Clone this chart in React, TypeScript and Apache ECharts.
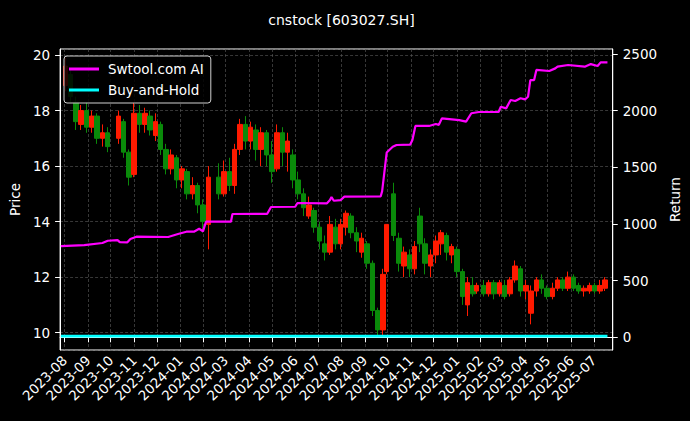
import React, { useEffect, useRef } from "react";
import * as echarts from "echarts";

const candleDates = [
  "2023-08-02","2023-08-09","2023-08-16","2023-08-23","2023-08-30","2023-09-06","2023-09-13","2023-09-20","2023-09-27",
  "2023-10-11","2023-10-18","2023-10-25","2023-11-01","2023-11-08","2023-11-15","2023-11-22","2023-11-29","2023-12-06",
  "2023-12-13","2023-12-20","2023-12-27","2024-01-03","2024-01-10","2024-01-17","2024-01-24","2024-01-31","2024-02-07",
  "2024-02-21","2024-02-28","2024-03-06","2024-03-13","2024-03-20","2024-03-27","2024-04-03","2024-04-10","2024-04-17",
  "2024-04-24","2024-05-01","2024-05-08","2024-05-15","2024-05-22","2024-05-29","2024-06-05","2024-06-12","2024-06-19",
  "2024-06-26","2024-07-03","2024-07-10","2024-07-17","2024-07-24","2024-07-31","2024-08-07","2024-08-14","2024-08-21",
  "2024-08-28","2024-09-04","2024-09-11","2024-09-18","2024-09-25","2024-09-30","2024-10-09","2024-10-16","2024-10-23",
  "2024-10-30","2024-11-06","2024-11-13","2024-11-20","2024-11-27","2024-12-04","2024-12-11","2024-12-18","2024-12-25",
  "2025-01-01","2025-01-08","2025-01-15","2025-01-22","2025-01-27","2025-02-05","2025-02-12","2025-02-19","2025-02-26",
  "2025-03-05","2025-03-12","2025-03-19","2025-03-26","2025-04-02","2025-04-09","2025-04-16","2025-04-23","2025-04-30",
  "2025-05-07","2025-05-14","2025-05-21","2025-05-28","2025-06-04","2025-06-11","2025-06-18","2025-06-25","2025-07-02",
  "2025-07-09","2025-07-16",
];
const openPrices = [
  18.9,19.3,18.3,17.5,18.0,17.4,17.8,17.0,17.2,
  17.0,17.6,16.5,15.7,17.9,17.5,17.8,17.1,17.5,
  16.6,15.9,16.3,15.5,15.8,15.0,15.3,14.6,13.9,
  15.6,15.0,15.8,15.3,16.6,17.5,16.9,17.3,16.6,
  17.2,16.4,15.9,17.2,16.5,16.4,15.5,15.0,14.2,
  14.4,13.8,13.2,12.9,13.8,13.2,13.8,14.2,13.6,
  12.9,13.2,12.5,10.8,10.1,12.2,15.0,13.4,12.4,
  12.8,12.3,14.2,13.2,12.4,12.8,13.2,13.5,12.8,
  13.0,12.2,11.0,11.7,11.5,11.7,11.4,11.8,11.4,
  11.7,11.4,11.9,12.3,11.5,10.7,11.5,11.9,11.6,
  11.3,11.6,11.9,11.6,12.0,11.7,11.5,11.5,11.7,
  11.5,11.6,
];
const closePrices = [
  19.6,18.5,17.6,18.0,17.4,17.8,17.0,17.2,16.7,
  17.8,16.5,15.6,17.9,17.5,17.9,17.3,17.6,16.6,
  15.9,16.4,15.5,15.9,15.0,15.3,14.6,14.0,15.6,
  15.0,15.8,15.3,16.6,17.5,16.9,17.4,16.6,17.2,
  16.4,15.8,17.2,16.5,16.9,15.5,15.0,14.5,14.6,
  13.8,13.3,12.9,13.9,13.2,13.9,14.3,13.6,13.3,
  13.4,12.5,10.8,10.1,12.1,13.9,13.5,12.5,12.9,
  12.3,13.1,13.2,12.5,12.8,13.3,13.6,12.9,13.1,
  12.2,11.3,11.8,11.4,11.7,11.4,11.8,11.4,11.8,
  11.3,11.9,12.4,11.5,11.7,11.5,11.9,11.6,11.3,
  11.6,11.9,11.6,12.0,11.6,11.5,11.6,11.7,11.5,
  11.7,11.9,
];
const lowPrices = [
  18.7,18.3,17.3,17.3,17.2,17.2,16.8,16.7,16.5,
  16.8,16.3,15.3,15.6,17.2,17.2,17.1,16.9,16.4,
  15.7,15.7,15.2,15.2,14.8,14.8,14.3,13.6,13.0,
  14.8,14.9,15.1,15.0,16.4,16.6,16.6,16.2,16.0,
  16.0,15.4,15.8,16.0,15.8,15.2,14.8,14.2,14.1,
  13.6,13.0,12.6,12.8,13.0,13.0,13.5,13.4,12.9,
  12.7,12.3,10.6,9.85,9.9,12.1,13.3,12.2,12.0,
  12.0,12.1,12.9,12.1,12.0,12.5,12.8,12.6,12.5,
  12.0,11.0,10.6,11.3,11.4,11.3,11.3,11.2,11.3,
  11.2,11.3,11.8,11.3,11.2,10.3,11.3,11.4,11.2,
  11.2,11.5,11.5,11.5,11.5,11.4,11.3,11.4,11.4,
  11.4,11.5,
];
const highPrices = [
  19.9,19.5,18.5,18.2,18.3,18.0,17.9,17.5,17.4,
  18.0,17.7,16.6,18.3,18.2,18.1,18.0,17.9,17.6,
  16.8,16.6,16.4,16.0,15.9,15.6,15.4,14.8,16.0,
  16.1,16.2,16.3,16.8,17.7,17.8,17.6,17.5,17.4,
  17.3,16.9,17.5,17.4,17.2,16.6,15.8,15.2,14.9,
  14.5,14.0,13.5,14.2,14.1,14.1,14.4,14.3,13.8,
  13.6,13.3,12.6,10.9,12.3,13.9,15.4,13.6,13.1,
  13.0,13.3,14.5,13.4,13.0,13.5,13.7,13.6,13.2,
  13.1,12.3,12.0,12.0,11.8,11.9,11.9,11.9,11.9,
  11.9,12.0,12.6,12.4,11.9,11.7,12.0,12.1,11.7,
  11.8,12.0,12.0,12.2,12.1,11.8,11.7,11.8,11.8,
  11.9,12.0,
];

const returnDates = [
  "2023-07-27","2023-08-27","2023-09-20","2023-09-27","2023-10-10","2023-10-13","2023-10-23","2023-10-27","2023-11-04",
  "2023-12-16","2023-12-29","2024-01-09","2024-01-19","2024-01-26","2024-01-31","2024-02-04","2024-03-08","2024-03-10",
  "2024-04-25","2024-04-30","2024-06-01","2024-06-04","2024-07-13","2024-07-17","2024-07-19","2024-07-22","2024-07-31",
  "2024-08-05","2024-09-22","2024-09-24","2024-09-30","2024-10-08","2024-10-13","2024-10-31","2024-11-03","2024-11-07",
  "2024-11-25","2024-12-04","2024-12-08","2024-12-12","2025-01-04","2025-01-13","2025-01-20","2025-01-30","2025-02-25",
  "2025-02-28","2025-03-07","2025-03-13","2025-03-19","2025-03-26","2025-04-01","2025-04-05","2025-04-08","2025-04-13",
  "2025-04-16","2025-05-03","2025-05-11","2025-05-14","2025-05-28","2025-06-19","2025-06-27","2025-07-06","2025-07-10",
  "2025-07-19",
];
const returnValues = [
  805,814,832,852,858,840,838,867,888,
  885,911,932,932,958,935,1020,1020,1088,
  1090,1150,1152,1185,1182,1211,1238,1205,1211,
  1241,1243,1290,1630,1682,1697,1700,1741,1865,
  1865,1882,1875,1932,1917,1903,1977,1988,1988,
  2035,2020,2094,2085,2109,2100,2123,2270,2270,
  2359,2350,2373,2388,2403,2388,2411,2394,2426,
  2426,
];
const holdDates = ["2023-07-27", "2024-07-20", "2025-07-19"];
const holdValues = [10, 10, 10];

const priceRange = { min: 9.376, max: 20.216 };
const returnRange = { min: -112, max: 2544 };

const FONT = "DejaVu Sans";

function fmtMonth(v: number) {
  const d = new Date(v);
  return `${d.getFullYear()}-${String(d.getMonth() + 1).padStart(2, "0")}`;
}

export default function App() {
  const ref = useRef<HTMLDivElement>(null);
  useEffect(() => {
    document.body.style.margin = "0";
    document.body.style.background = "#000";
    const chart = echarts.init(ref.current!, null, { renderer: "svg" });
    const candles = candleDates.map((d, i) => [d, openPrices[i], closePrices[i], lowPrices[i], highPrices[i]]);
    const ret = returnDates.map((d, i) => [d, returnValues[i]]);
    const hold = holdDates.map((d, i) => [d, holdValues[i]]);
    const axisLabelStyle = { color: "#ffffff", fontSize: 13.5, fontFamily: FONT };
    const gridLine = { show: true, lineStyle: { color: "#5c5c5c", type: [3, 2], width: 0.6 } };
    chart.setOption({
      animation: false,
      backgroundColor: "#000000",
      textStyle: { fontFamily: FONT },
      title: {
        text: "cnstock [603027.SH]",
        left: 336.5,
        top: 8,
        textAlign: "center",
        textStyle: { color: "#ffffff", fontSize: 14, fontWeight: "normal", fontFamily: FONT },
      },
      legend: {
        data: ["Swtool.com AI", "Buy-and-Hold"],
        orient: "vertical",
        left: 64,
        top: 56,
        padding: [6, 7, 6, 5],
        itemWidth: 30,
        itemHeight: 3,
        itemGap: 7,
        icon: "rect",
        backgroundColor: "rgba(0,0,0,0.85)",
        borderColor: "#d0d0d0",
        borderWidth: 1,
        borderRadius: 3,
        textStyle: { color: "#ffffff", fontSize: 13.5, fontFamily: FONT, lineHeight: 14, padding: [0, 0, 0, 4] },
      },
      grid: {
        left: 58,
        right: 75,
        top: 49,
        bottom: 71,
        show: true,
        borderColor: "#ffffff",
        borderWidth: 1,
        backgroundColor: "#000000",
      },
      xAxis: {
        type: "time",
        min: "2023-07-26",
        max: "2025-07-26",
        minInterval: 28 * 86400000,
        maxInterval: 31 * 86400000,
        axisLine: { show: true, lineStyle: { color: "#ffffff" } },
        axisTick: { show: true, length: 5, lineStyle: { color: "#ffffff" } },
        axisLabel: {
          ...axisLabelStyle,
          rotate: 45,
          margin: 8,
          showMinLabel: false,
          showMaxLabel: false,
          hideOverlap: false,
          formatter: (v: number) => fmtMonth(v),
        },
        splitLine: gridLine,
      },
      yAxis: [
        {
          type: "value",
          position: "left",
          min: priceRange.min,
          max: priceRange.max,
          name: "Price",
          nameLocation: "middle",
          nameRotate: 90,
          nameGap: 34,
          nameTextStyle: { color: "#ffffff", fontSize: 13.5, fontFamily: FONT },
          axisLine: { show: true, lineStyle: { color: "#ffffff" } },
          axisTick: { show: true, length: 5, lineStyle: { color: "#ffffff" } },
          axisLabel: { ...axisLabelStyle, margin: 10, showMinLabel: false, showMaxLabel: false, formatter: (v: number) => String(v) },
          splitLine: gridLine,
        },
        {
          type: "value",
          position: "right",
          min: returnRange.min,
          max: returnRange.max,
          name: "Return",
          nameLocation: "middle",
          nameRotate: 90,
          nameGap: 50,
          nameTextStyle: { color: "#ffffff", fontSize: 13.5, fontFamily: FONT },
          axisLine: { show: true, lineStyle: { color: "#ffffff" } },
          axisTick: { show: true, length: 5, lineStyle: { color: "#ffffff" } },
          axisLabel: { ...axisLabelStyle, margin: 10, showMinLabel: false, showMaxLabel: false, formatter: (v: number) => String(v) },
          splitLine: { show: false },
        },
      ],
      series: [
        {
          name: "Price",
          type: "candlestick",
          xAxisIndex: 0,
          yAxisIndex: 0,
          barWidth: 5,
          encode: { x: 0, y: [1, 2, 3, 4] },
          data: candles,
          itemStyle: {
            color: "#ff1a00",
            color0: "#0a8a0a",
            borderColor: "#ff1a00",
            borderColor0: "#0a8a0a",
            borderWidth: 1,
          },
          z: 2,
        },
        {
          name: "Swtool.com AI",
          type: "line",
          yAxisIndex: 1,
          data: ret,
          showSymbol: false,
          symbol: "none",
          lineStyle: { color: "#ff00ff", width: 2.2 },
          itemStyle: { color: "#ff00ff" },
          z: 5,
        },
        {
          name: "Buy-and-Hold",
          type: "line",
          yAxisIndex: 1,
          data: hold,
          showSymbol: false,
          symbol: "none",
          lineStyle: { color: "#00ffff", width: 2.6 },
          itemStyle: { color: "#00ffff" },
          z: 5,
        },
      ],
    });
    return () => chart.dispose();
  }, []);
  return <div ref={ref} style={{ width: 690, height: 421 }} />;
}
